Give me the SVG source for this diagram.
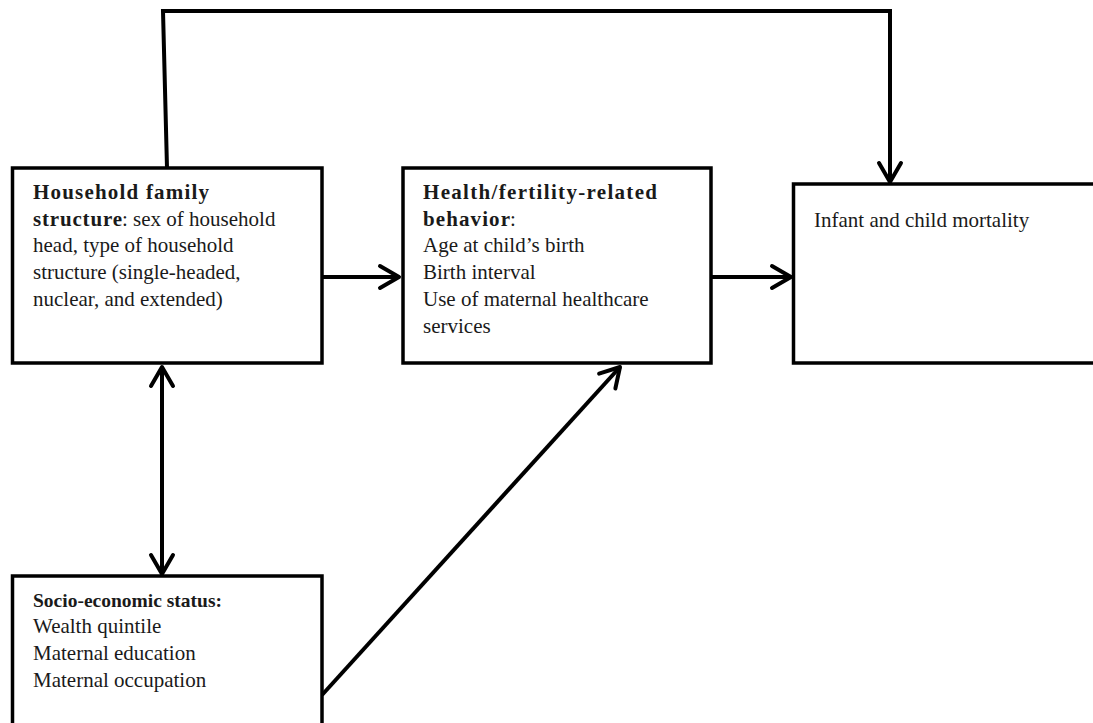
<svg xmlns="http://www.w3.org/2000/svg" width="1093" height="723" viewBox="0 0 1093 723">
<style>
.box{fill:#fff;stroke:#000;stroke-width:3.5}
.t{font-family:"Liberation Serif","Times New Roman",serif;font-size:21px;fill:#1a1a1a}
.b{font-weight:bold}
.c{fill:none;stroke:#000;stroke-width:4}
</style>
<defs>
<marker id="ah" viewBox="-23 -13 25 26" refX="0" refY="0" markerWidth="25" markerHeight="26" markerUnits="userSpaceOnUse" orient="auto-start-reverse" overflow="visible">
<path d="M-19,-11 L0,0 L-19,11" fill="none" stroke="#000" stroke-width="4" stroke-linecap="round" stroke-linejoin="round"/>
</marker>
</defs>
<rect width="1093" height="723" fill="#fff"/>
<g id="connectors">
<polyline class="c" points="167,168 163,11 890,11 890,182" marker-end="url(#ah)"/>
<line class="c" x1="323" y1="277" x2="399" y2="277" marker-end="url(#ah)"/>
<line class="c" x1="711" y1="277" x2="791" y2="277" marker-end="url(#ah)"/>
<line class="c" x1="162" y1="367" x2="162" y2="574" marker-start="url(#ah)" marker-end="url(#ah)"/>
<line class="c" x1="322" y1="695" x2="620" y2="367" marker-end="url(#ah)"/>
</g>
<g id="node-household">
<rect class="box" x="12.5" y="168" width="309.5" height="195"/>
<text class="t b" x="33" y="199" textLength="176" lengthAdjust="spacing">Household family</text>
<text class="t b" x="33" y="225.5" textLength="89" lengthAdjust="spacing">structure</text>
<text class="t" x="122" y="225.5">: sex of household</text>
<text class="t" x="33" y="252">head, type of household</text>
<text class="t" x="33" y="279">structure (single-headed,</text>
<text class="t" x="33" y="306">nuclear, and extended)</text>
</g>
<g id="node-behavior">
<rect class="box" x="403" y="168" width="308" height="195"/>
<text class="t b" x="423" y="199" textLength="234" lengthAdjust="spacing">Health/fertility-related</text>
<text class="t b" x="423" y="225.5" textLength="87" lengthAdjust="spacing">behavior</text>
<text class="t" x="510" y="225.5">:</text>
<text class="t" x="423" y="252">Age at child’s birth</text>
<text class="t" x="423" y="279">Birth interval</text>
<text class="t" x="423" y="306">Use of maternal healthcare</text>
<text class="t" x="423" y="333">services</text>
</g>
<g id="node-mortality">
<rect class="box" x="793.5" y="184" width="320" height="179"/>
<text class="t" x="814" y="227">Infant and child mortality</text>
</g>
<g id="node-ses">
<rect class="box" x="12.5" y="576" width="309.5" height="170"/>
<text class="t b" x="33" y="607" style="font-size:19.5px">Socio-economic status:</text>
<text class="t" x="33" y="633">Wealth quintile</text>
<text class="t" x="33" y="660">Maternal education</text>
<text class="t" x="33" y="687">Maternal occupation</text>
</g>
</svg>
